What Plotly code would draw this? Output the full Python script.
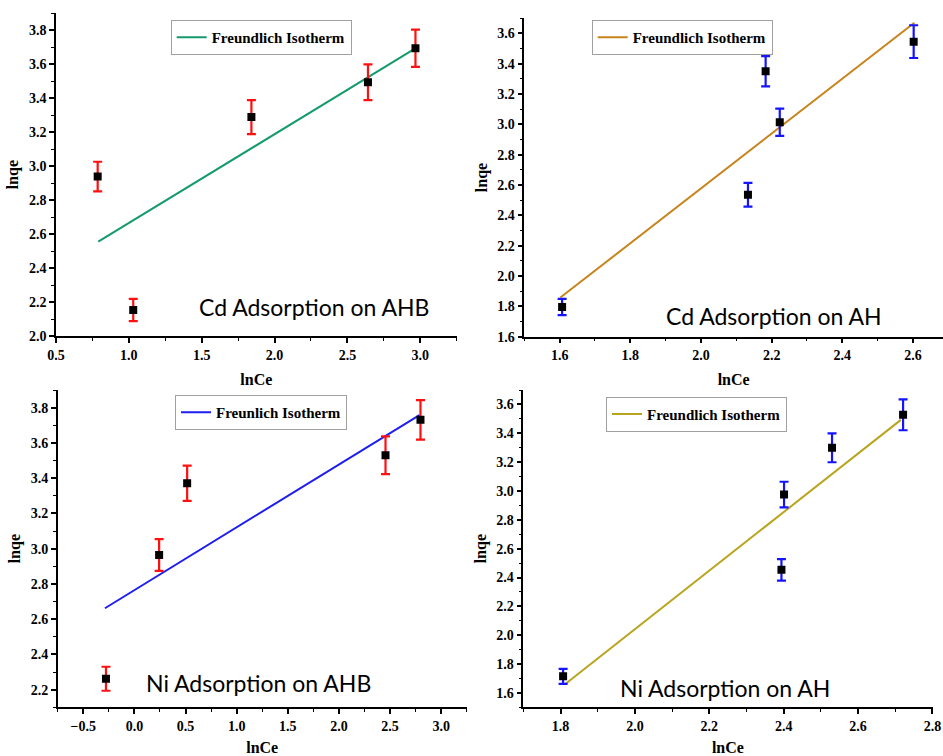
import plotly.graph_objects as go

W, H = 943, 756

# ---- Cd adsorption on AHB ----
cd_ahb_lnce = [0.786, 1.030, 1.841, 2.641, 2.967]
cd_ahb_lnqe = [2.939, 2.153, 3.289, 3.494, 3.694]
cd_ahb_err = [0.087, 0.065, 0.100, 0.105, 0.110]
cd_ahb_fit_x = [0.79, 2.983]
cd_ahb_fit_y = [2.556, 3.702]

# ---- Cd adsorption on AH ----
cd_ah_lnce = [1.607, 2.133, 2.183, 2.223, 2.602]
cd_ah_lnqe = [1.796, 2.536, 3.351, 3.014, 3.546]
cd_ah_err = [0.054, 0.078, 0.100, 0.090, 0.108]
cd_ah_fit_x = [1.602, 2.604]
cd_ah_fit_y = [1.858, 3.671]

# ---- Ni adsorption on AHB ----
ni_ahb_lnce = [-0.278, 0.242, 0.516, 2.456, 2.798]
ni_ahb_lnqe = [2.262, 2.964, 3.371, 3.530, 3.731]
ni_ahb_err = [0.068, 0.090, 0.100, 0.107, 0.112]
ni_ahb_fit_x = [-0.288, 2.788]
ni_ahb_fit_y = [2.662, 3.758]

# ---- Ni adsorption on AH ----
ni_ah_lnce = [1.807, 2.394, 2.401, 2.530, 2.721]
ni_ah_lnqe = [1.715, 2.453, 2.975, 3.299, 3.528]
ni_ah_err = [0.052, 0.075, 0.089, 0.100, 0.107]
ni_ah_fit_x = [1.813, 2.715]
ni_ah_fit_y = [1.662, 3.493]

panel_titles = ["Cd Adsorption on AHB", "Cd Adsorption on AH",
                "Ni Adsorption on AHB", "Ni Adsorption on AH"]
fit_names = ["Freundlich Isotherm", "Freundlich Isotherm",
             "Freunlich Isotherm", "Freundlich Isotherm"]

SERIF = "Liberation Serif"
SANS = "Lato"


def dom_x(a, b):
    return [a / W, b / W]


def dom_y(top, bottom):
    return [1 - bottom / H, 1 - top / H]


panels = [
    dict(x=cd_ahb_lnce, y=cd_ahb_lnqe, err=cd_ahb_err, fx=cd_ahb_fit_x, fy=cd_ahb_fit_y,
         line="#159a6e", errc="#ff1010",
         xd=dom_x(56, 456.7), yd=dom_y(13.3, 336),
         xr=[0.5, 3.25], yr=[2.0, 3.9], xdt=0.5, ydt=0.2,
         leg=(170.7, 20), lab=(2.27, 2.171)),
    dict(x=cd_ah_lnce, y=cd_ah_lnqe, err=cd_ah_err, fx=cd_ah_fit_x, fy=cd_ah_fit_y,
         line="#c8841c", errc="#1414ff",
         xd=dom_x(524.3, 943), yd=dom_y(18.3, 336.7),
         xr=[1.5, 2.685], yr=[1.6, 3.7], xdt=0.2, ydt=0.2,
         leg=(591.7, 20), lab=(2.206, 1.737)),
    dict(x=ni_ahb_lnce, y=ni_ahb_lnqe, err=ni_ahb_err, fx=ni_ahb_fit_x, fy=ni_ahb_fit_y,
         line="#1e1ef0", errc="#ff1010",
         xd=dom_x(57.7, 466.7), yd=dom_y(390, 707.3),
         xr=[-0.75, 3.25], yr=[2.1, 3.9], xdt=0.5, ydt=0.2,
         leg=(175, 395), lab=(1.211, 2.237)),
    dict(x=ni_ah_lnce, y=ni_ah_lnqe, err=ni_ah_err, fx=ni_ah_fit_x, fy=ni_ah_fit_y,
         line="#b8a41e", errc="#1414ff",
         xd=dom_x(523.3, 932.5), yd=dom_y(390, 707.3),
         xr=[1.7, 2.8001], yr=[1.5, 3.7], xdt=0.2, ydt=0.2,
         leg=(606, 396.7), lab=(2.242, 1.632)),
]

fig = go.Figure()
layout = dict(
    template="none",
    width=W, height=H,
    margin=dict(l=0, r=0, t=0, b=0, pad=0),
    paper_bgcolor="white", plot_bgcolor="white",
    showlegend=True,
    annotations=[],
)

tick_font = dict(family=SERIF, size=14, color="black", weight="bold")
title_font = dict(family=SERIF, size=16, color="black", weight="bold")

for i, p in enumerate(panels, start=1):
    xa = "x" if i == 1 else f"x{i}"
    ya = "y" if i == 1 else f"y{i}"
    legname = "legend" if i == 1 else f"legend{i}"

    # fitted line
    fig.add_trace(go.Scatter(
        x=p["fx"], y=p["fy"], mode="lines",
        line=dict(color=p["line"], width=2),
        name=fit_names[i - 1], xaxis=xa, yaxis=ya, legend=legname,
        showlegend=True,
    ))
    # measured points with error bars
    fig.add_trace(go.Scatter(
        x=p["x"], y=p["y"], mode="markers",
        marker=dict(symbol="square", size=8, color="black"),
        error_y=dict(type="data", array=p["err"], visible=True,
                     color=p["errc"], thickness=2.2, width=4.5),
        xaxis=xa, yaxis=ya, showlegend=False,
    ))

    axis_common = dict(
        automargin=False,
        showline=True, linecolor="black", linewidth=1.5,
        showgrid=False, zeroline=False, mirror=False,
        ticks="outside", ticklen=5, tickwidth=1.5, tickcolor="black",
        tickfont=tick_font, tickformat=".1f",
        ticklabeloverflow="allow",
    )
    xkey = "xaxis" if i == 1 else f"xaxis{i}"
    ykey = "yaxis" if i == 1 else f"yaxis{i}"
    layout[xkey] = dict(
        axis_common, domain=p["xd"], range=p["xr"], anchor=ya,
        tick0=0, dtick=p["xdt"],
        minor=dict(ticks="outside", ticklen=3, tickwidth=1.2, tickcolor="black",
                   dtick=p["xdt"] / 2, tick0=0),
        title=dict(text="lnCe", font=title_font, standoff=12),
    )
    layout[ykey] = dict(
        axis_common, domain=p["yd"], range=p["yr"], anchor=xa,
        tick0=0, dtick=p["ydt"],
        minor=dict(ticks="outside", ticklen=3, tickwidth=1.2, tickcolor="black",
                   dtick=p["ydt"] / 2, tick0=0),
        title=dict(text="lnqe", font=title_font, standoff=6),
    )
    layout[legname] = dict(
        x=p["leg"][0] / W, y=1 - p["leg"][1] / H,
        xanchor="left", yanchor="top",
        bgcolor="white", bordercolor="#a0a0a0", borderwidth=1,
        font=dict(family=SERIF, size=15, color="black", weight="bold"),
        itemwidth=30,
    )
    layout["annotations"].append(dict(
        x=p["lab"][0], y=p["lab"][1], xref=xa, yref=ya,
        text=panel_titles[i - 1], showarrow=False,
        xanchor="center", yanchor="middle",
        font=dict(family=SANS, size=23, color="black"),
    ))

fig.update_layout(**layout)
fig.write_html("out.html")
